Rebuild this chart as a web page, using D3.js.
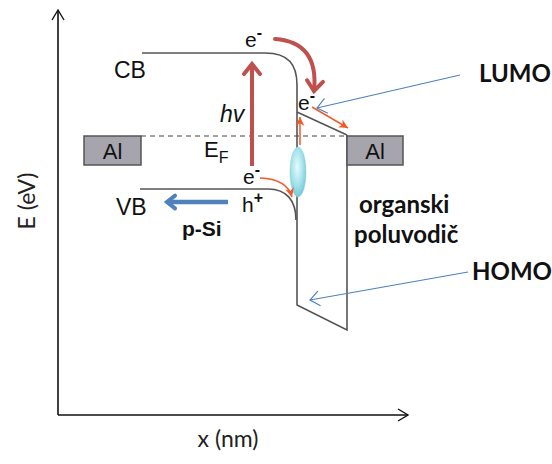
<!DOCTYPE html>
<html>
<head>
<meta charset="utf-8">
<script src="https://cdn.jsdelivr.net/npm/d3@7"></script>
<style>
  body { margin: 0; background: #fff; }
  svg { display: block; }
</style>
</head>
<body>
<svg></svg>
<script>
// Band diagram values, in diagram units (x along the device, E upward)
const cbLevel = 362;          // conduction band of p-Si
const vbLevel = 226;          // valence band of p-Si
const efLevel = 279;          // Fermi level
const bandStart = [84, 82];   // CB, VB start x
const bandBend = [207, 210];  // where CB, VB begin to bend
const cbBendEnd = 330;        // E where CB becomes vertical
const vbBendEnd = 195;        // E where VB joins the interface
const interfaceX = 239;
const organicX = 289;
const lumoLevels = [303, 280];  // left, right
const homoLevels = [110, 85];   // left, right
const contactLeft = [26, 83];
const contactRight = [289, 345];
const contactE = [250, 279];

const xScale = d3.scaleLinear().domain([0, 350]).range([58, 408]);
const yScale = d3.scaleLinear().domain([0, 405]).range([415, 10]);

const svg = d3.select("svg").attr("width", 552).attr("height", 464);

const red = "#c0504d", orange = "#f15a2b", blue = "#4f81bd", band = "#555";

// markers
const defs = svg.append("defs");
function vHead(id, color, size, sw) {
  defs.append("marker")
    .attr("id", id)
    .attr("markerUnits", "userSpaceOnUse")
    .attr("viewBox", `${-size - 3} ${-size - 3} ${2 * size + 6} ${2 * size + 6}`)
    .attr("markerWidth", 2 * size + 6)
    .attr("markerHeight", 2 * size + 6)
    .attr("refX", 0).attr("refY", 0)
    .attr("orient", "auto")
    .append("path")
    .attr("d", `M${-size},${-size * 0.8} L0,0 L${-size},${size * 0.8}`)
    .attr("fill", "none")
    .attr("stroke", color)
    .attr("stroke-width", sw)
    .attr("stroke-linecap", "round")
    .attr("stroke-linejoin", "miter");
}
function triHead(id, color, len, w) {
  defs.append("marker")
    .attr("id", id)
    .attr("markerUnits", "userSpaceOnUse")
    .attr("viewBox", `${-len - 1} ${-w - 1} ${len + 2} ${2 * w + 2}`)
    .attr("markerWidth", len + 2)
    .attr("markerHeight", 2 * w + 2)
    .attr("refX", 0).attr("refY", 0)
    .attr("orient", "auto")
    .append("path")
    .attr("d", `M${-len},${-w} L0,0 L${-len},${w} L${-len * 0.7},0 Z`)
    .attr("fill", color);
}
vHead("redHead", red, 10, 4);
vHead("blueBig", blue, 8, 4);
vHead("blueThin", blue, 9, 1.2);
triHead("orHead", orange, 9, 4.5);

const grad = defs.append("radialGradient").attr("id", "exc")
  .attr("cx", "45%").attr("cy", "40%").attr("r", "65%");
grad.append("stop").attr("offset", "0%").attr("stop-color", "#e6fbfd");
grad.append("stop").attr("offset", "55%").attr("stop-color", "#a6e2ea");
grad.append("stop").attr("offset", "100%").attr("stop-color", "#6cc4d2");

// axes
const axisG = svg.append("g");
axisG.append("line")
  .attr("x1", xScale(0)).attr("y1", yScale(0))
  .attr("x2", xScale(0)).attr("y2", yScale(405))
  .attr("stroke", "#111").attr("stroke-width", 1.6);
axisG.append("line")
  .attr("x1", xScale(0)).attr("y1", yScale(0))
  .attr("x2", xScale(350)).attr("y2", yScale(0))
  .attr("stroke", "#111").attr("stroke-width", 1.6);
axisG.append("path")
  .attr("d", `M${xScale(0) - 6},${yScale(405) + 10} L${xScale(0)},${yScale(405)} L${xScale(0) + 6},${yScale(405) + 10}`)
  .attr("fill", "none").attr("stroke", "#111").attr("stroke-width", 1.4);
axisG.append("path")
  .attr("d", `M${xScale(350) - 10},${yScale(0) - 6} L${xScale(350)},${yScale(0)} L${xScale(350) - 10},${yScale(0) + 6}`)
  .attr("fill", "none").attr("stroke", "#111").attr("stroke-width", 1.4);

axisG.append("text")
  .attr("transform", `translate(35, 201) rotate(-90)`)
  .attr("text-anchor", "middle")
  .attr("font-family", "Lato, 'Open Sans', sans-serif")
  .attr("font-size", 23)
  .attr("fill", "#222")
  .text("E (eV)");
axisG.append("text")
  .attr("x", 228).attr("y", 447)
  .attr("text-anchor", "middle")
  .attr("font-family", "Lato, 'Open Sans', sans-serif")
  .attr("font-size", 23)
  .attr("fill", "#222")
  .text("x (nm)");

// Fermi level
svg.append("line")
  .attr("x1", xScale(contactLeft[1])).attr("y1", yScale(efLevel))
  .attr("x2", xScale(contactRight[0])).attr("y2", yScale(efLevel))
  .attr("stroke", "#444").attr("stroke-width", 1)
  .attr("stroke-dasharray", "5,4");

// bands
const cb = d3.path();
cb.moveTo(xScale(bandStart[0]), yScale(cbLevel));
cb.lineTo(xScale(bandBend[0]), yScale(cbLevel));
cb.bezierCurveTo(xScale(interfaceX - 8), yScale(cbLevel), xScale(interfaceX), yScale(cbLevel - 12),
  xScale(interfaceX), yScale(cbBendEnd));
cb.lineTo(xScale(interfaceX), yScale(homoLevels[0]));
cb.lineTo(xScale(organicX), yScale(homoLevels[1]));
cb.lineTo(xScale(organicX), yScale(lumoLevels[1]));
svg.append("path").attr("d", cb.toString())
  .attr("fill", "none").attr("stroke", band).attr("stroke-width", 1.6);

const lumo = d3.path();
lumo.moveTo(xScale(interfaceX), yScale(lumoLevels[0]));
lumo.lineTo(xScale(organicX), yScale(lumoLevels[1]));
svg.append("path").attr("d", lumo.toString())
  .attr("fill", "none").attr("stroke", band).attr("stroke-width", 1.6);

const vb = d3.path();
vb.moveTo(xScale(bandStart[1]), yScale(vbLevel));
vb.lineTo(xScale(bandBend[1]), yScale(vbLevel));
vb.bezierCurveTo(xScale(interfaceX - 10), yScale(vbLevel), xScale(interfaceX - 1), yScale(vbLevel - 12),
  xScale(interfaceX - 1), yScale(vbBendEnd));
svg.append("path").attr("d", vb.toString())
  .attr("fill", "none").attr("stroke", band).attr("stroke-width", 1.6);

// Al contacts
[contactLeft, contactRight].forEach((c) => {
  svg.append("rect")
    .attr("x", xScale(c[0])).attr("y", yScale(contactE[1]))
    .attr("width", xScale(c[1]) - xScale(c[0]))
    .attr("height", yScale(contactE[0]) - yScale(contactE[1]))
    .attr("fill", "#a6a5ad").attr("stroke", "#555").attr("stroke-width", 1.5);
  svg.append("text")
    .attr("x", (xScale(c[0]) + xScale(c[1])) / 2)
    .attr("y", yScale(contactE[0]) - 6)
    .attr("text-anchor", "middle")
    .attr("font-family", "'Liberation Sans', Arial, sans-serif")
    .attr("font-size", 22).attr("fill", "#111")
    .text("Al");
});

// exciton
svg.append("ellipse")
  .attr("cx", xScale(interfaceX + 1)).attr("cy", yScale(243))
  .attr("rx", 8).attr("ry", 25)
  .attr("fill", "url(#exc)").attr("stroke", "#8fd3de").attr("stroke-width", 0.5);

// arrows
svg.append("line")
  .attr("x1", xScale(194)).attr("y1", yScale(249))
  .attr("x2", xScale(194)).attr("y2", yScale(351))
  .attr("stroke", red).attr("stroke-width", 4)
  .attr("marker-end", "url(#redHead)");

const arc = d3.path();
arc.moveTo(xScale(217), yScale(376));
arc.quadraticCurveTo(xScale(261), yScale(373), xScale(256), yScale(324));
svg.append("path").attr("d", arc.toString())
  .attr("fill", "none").attr("stroke", red).attr("stroke-width", 4)
  .attr("stroke-linecap", "round")
  .attr("marker-end", "url(#redHead)");

const o1 = d3.path();
o1.moveTo(xScale(202), yScale(237));
o1.quadraticCurveTo(xScale(229), yScale(236), xScale(234), yScale(218));
svg.append("path").attr("d", o1.toString())
  .attr("fill", "none").attr("stroke", orange).attr("stroke-width", 1.5)
  .attr("marker-end", "url(#orHead)");

svg.append("line")
  .attr("x1", xScale(242)).attr("y1", yScale(270))
  .attr("x2", xScale(242)).attr("y2", yScale(298))
  .attr("stroke", orange).attr("stroke-width", 1.5)
  .attr("marker-end", "url(#orHead)");

svg.append("line")
  .attr("x1", xScale(254)).attr("y1", yScale(308))
  .attr("x2", xScale(290)).attr("y2", yScale(287))
  .attr("stroke", orange).attr("stroke-width", 1.5)
  .attr("marker-end", "url(#orHead)");

svg.append("line")
  .attr("x1", xScale(170)).attr("y1", yScale(213))
  .attr("x2", xScale(109)).attr("y2", yScale(213))
  .attr("stroke", blue).attr("stroke-width", 4.5)
  .attr("marker-end", "url(#blueBig)");

svg.append("line")
  .attr("x1", xScale(402)).attr("y1", yScale(340))
  .attr("x2", xScale(259)).attr("y2", yScale(307))
  .attr("stroke", blue).attr("stroke-width", 1.2)
  .attr("marker-end", "url(#blueThin)");

svg.append("line")
  .attr("x1", xScale(410)).attr("y1", yScale(143))
  .attr("x2", xScale(252)).attr("y2", yScale(115))
  .attr("stroke", blue).attr("stroke-width", 1.2)
  .attr("marker-end", "url(#blueThin)");

// labels
const sans = "'Liberation Sans', Arial, sans-serif";
const cal = "Lato, 'Open Sans', sans-serif";
function label(x, E, opt = {}) {
  return svg.append("text")
    .attr("x", xScale(x)).attr("y", yScale(E))
    .attr("font-family", opt.family || sans)
    .attr("font-size", opt.size || 23)
    .attr("font-weight", opt.weight || "normal")
    .attr("font-style", opt.style || "normal")
    .attr("fill", opt.fill || "#111");
}
function charge(x, E, base, sign) {
  const t = label(x, E, { size: 21 });
  t.append("tspan").text(base);
  t.append("tspan").attr("dy", -9).attr("font-size", 16).attr("font-weight", "bold").text(sign);
}

label(56, 337).text("CB");
label(58, 200).text("VB");
label(162, 293, { style: "italic" }).text("hv");
const ef = label(146, 258, { size: 22 });
ef.append("tspan").text("E");
ef.append("tspan").attr("dy", 6).attr("font-size", 16).text("F");
charge(187, 368, "e", "-");
charge(240, 305, "e", "-");
charge(185, 231, "e", "-");
charge(184, 203, "h", "+");

label(124, 179, { weight: "bold", size: 21 }).text("p-Si");
label(301, 202, { family: cal, weight: "bold", size: 24 }).text("organski");
label(296, 172, { family: cal, weight: "bold", size: 24 }).text("poluvodič");
label(421, 333, { family: cal, weight: "bold", size: 24 }).text("LUMO");
label(414, 135, { family: cal, weight: "bold", size: 24 }).text("HOMO");
</script>
</body>
</html>
